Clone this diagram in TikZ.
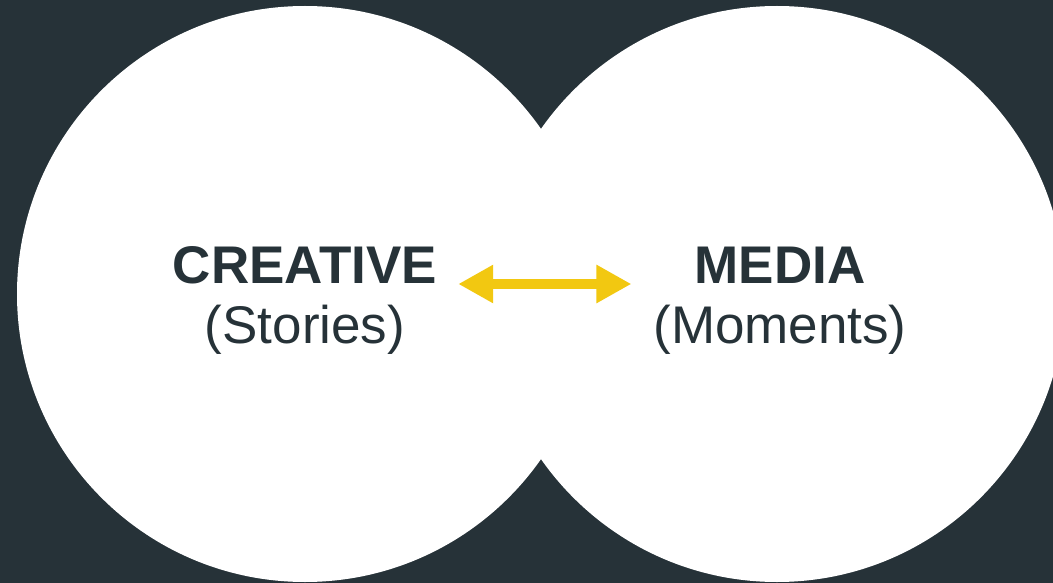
\documentclass[tikz,border=0pt]{standalone}
\usepackage{fontspec}
\setmainfont{Liberation Sans}
\usetikzlibrary{arrows.meta, positioning}

\definecolor{slate}{HTML}{263238}
\definecolor{gold}{HTML}{F2C811}

\tikzset{
  bubble/.style={fill=white, draw=none},
  title/.style={inner sep=0pt, anchor=base, text=slate, font=\fontsize{53}{62}\selectfont\bfseries},
  subtitle/.style={inner sep=0pt, anchor=base, text=slate, font=\fontsize{53}{62}\selectfont},
  twoway/.style={draw=gold, line width=10pt,
    {Triangle[length=35pt,width=36pt]}-{Triangle[length=35pt,width=36pt]}}
}

\begin{document}
\begin{tikzpicture}[x=1pt, y=-1pt]
% background and frame
\fill[slate] (0,0) rectangle (1053,583);
\useasboundingbox (0,0) rectangle (1053,583);

% the two circles
\fill[bubble] (305,294) circle (288pt);
\fill[bubble] (777,294) circle (288pt);

% labels
\node[title] (creative) at (305,283) {CREATIVE};
\node[subtitle] (stories) at (305,343) {(Stories)};
\node[title] (media) at (780,283) {MEDIA};
\node[subtitle] (moments) at (780,343) {(Moments)};

% the double arrow
\draw[twoway] ([xshift=21pt, yshift=-1pt]creative.base east) -- ([xshift=-63pt, yshift=-1pt]media.base west);
\end{tikzpicture}
\end{document}
